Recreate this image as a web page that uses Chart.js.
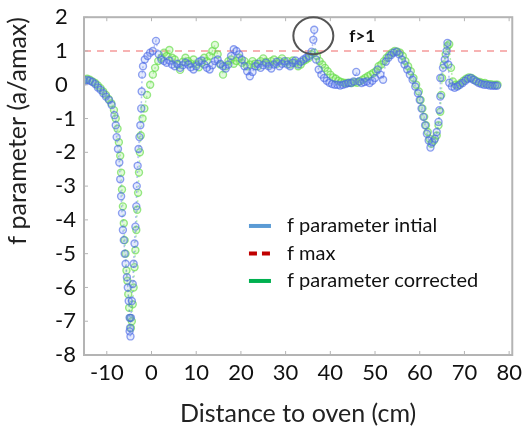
<!DOCTYPE html>
<html>
<head>
<meta charset="utf-8">
<script src="https://cdn.jsdelivr.net/npm/chart.js@4/dist/chart.umd.min.js"></script>
<style>
  html, body { margin: 0; padding: 0; background: #fff; }
  #wrap { width: 527px; height: 429px; }
</style>
</head>
<body>
<div id="wrap"><canvas id="c" width="527" height="429"></canvas></div>
<script>
// axis setup
const xMin = -15.1, xMax = 80.7;
const yMin = -8, yMax = 2;
const xTicks = [-10, 0, 10, 20, 30, 40, 50, 60, 70, 80];
const yTicks = [-8, -7, -6, -5, -4, -3, -2, -1, 0, 1, 2];
const fMax = 1;

// f parameter initial (blue)
const blueX = [-15.0, -14.4, -13.8, -13.2, -12.6, -12.0, -11.4, -10.8, -10.2, -9.5, -8.9, -8.3, -8.0, -7.8, -7.5, -7.2, -7.0, -6.8, -6.6, -6.4, -6.2, -6.0, -5.8, -5.5, -5.3, -5.1, -4.9, -4.8, -4.7,
  -4.9, -4.6, -4.4, -4.2, -4.0, -3.8, -3.6, -3.4, -3.3, -3.1, -2.9, -2.7, -2.5, -2.3, -2.2, -2.1, -1.9, -1.5, -0.9, -0.3, 0.3, 1.0, 1.6, 2.2,
  2.8, 3.4, 4.0, 4.6, 5.2, 5.8, 6.4, 7.0, 7.6, 8.2, 8.8, 9.4, 10.0, 10.6, 11.2, 11.8, 12.4, 13.0, 13.6, 14.2, 14.8, 15.4, 16.0, 16.6, 17.2, 17.8, 18.4, 19.0, 19.6, 20.2, 20.8, 21.4, 22.0, 22.6, 23.2, 23.8, 24.4, 25.0, 25.6, 26.2, 26.8, 27.4, 28.0, 28.6, 29.2, 29.8, 30.4, 31.0, 31.6, 32.2, 32.8, 33.4, 34.0, 34.6, 35.2, 35.8, 36.2, 36.4,
  36.8, 37.4, 38.0, 38.6, 39.2, 39.8, 40.4, 41.0, 41.6, 42.2, 42.8, 43.4, 44.0, 44.6, 45.2, 45.8, 46.4, 47.0, 47.6, 48.2, 48.8, 49.4, 50.0, 50.6, 51.2, 51.8, 52.4, 53.0, 53.6, 54.2, 54.8, 55.4, 56.0, 56.6, 57.2, 57.8, 58.4, 59.0, 59.6, 60.0, 60.4, 60.8, 61.2, 61.6, 62.0, 62.4, 62.8, 63.4, 63.8, 64.2, 64.4, 64.6, 64.6, 65.2, 65.6, 66.0, 66.2, 66.4, 66.6, 67.2, 67.8, 68.4, 69.0, 69.6, 70.2, 70.8, 71.4, 72.0, 72.6, 73.2, 73.8, 74.4, 75.0, 75.6, 76.2, 76.8, 77.3];
const blueY = [0.10, 0.14, 0.12, 0.08, 0.02, -0.08, -0.15, -0.25, -0.35, -0.45, -0.6, -0.9, -1.2, -1.55, -1.9, -2.3, -2.8, -3.3, -3.8, -4.3, -4.6, -5.0, -5.3, -5.7, -6.0, -6.4, -6.9, -7.2, -7.45,
  -7.3, -6.9, -6.4, -5.9, -5.3, -4.7, -4.2, -3.6, -3.0, -2.4, -1.9, -1.55, -1.2, -0.7, -0.2, 0.3, 0.55, 0.75, 0.85, 0.95, 1.0, 1.3, 0.9, 0.75,
  0.7, 0.65, 0.72, 0.6, 0.55, 0.62, 0.5, 0.58, 0.66, 0.6, 0.52, 0.45, 0.55, 0.68, 0.72, 0.6, 0.5, 0.45, 0.58, 0.7, 0.75, 0.62, 0.55, 0.48, 0.6, 0.85, 1.05, 1.0, 0.9, 0.75, 0.55, 0.4, 0.25, 0.38, 0.55, 0.62, 0.5, 0.58, 0.65, 0.55, 0.48, 0.6, 0.68, 0.55, 0.62, 0.7, 0.6, 0.55, 0.65, 0.72, 0.6, 0.68, 0.75, 0.8, 0.85, 0.98, 1.33, 1.63,
  0.75, 0.45, 0.3, 0.2, 0.12, 0.06, 0.02, 0.0, 0.0, -0.02, 0.0, 0.02, 0.05, 0.05, 0.1, 0.38, 0.1, 0.05, 0.08, 0.1, 0.05, 0.12, 0.2, 0.45, 0.3, 0.15, 0.68, 0.8, 0.88, 0.95, 0.98, 0.9, 0.75, 0.6, 0.45, 0.3, 0.15, -0.05, -0.25, -0.45, -0.7, -0.95, -1.2, -1.45, -1.65, -1.86, -1.7, -1.6, -1.4, -1.1, -0.75, -0.35, 0.2, 0.5, 0.75, 1.0, 1.24, 0.6, 0.06, -0.05, -0.09, -0.05, 0.0, 0.05, 0.12, 0.18, 0.2, 0.15, 0.1, 0.05, 0.02, 0.0, 0.0, -0.02, -0.03, -0.03, -0.03];

// f parameter corrected (green)
const greenX = [-15.0, -14.4, -13.8, -13.2, -12.6, -12.0, -11.4, -10.8, -10.2, -9.6, -9.0, -8.4, -8.0, -7.6, -7.3, -7.0, -6.8, -6.6, -6.4, -6.2, -6.0, -5.8, -5.6, -5.4, -5.2, -5.0, -4.8, -4.6,
  -4.4, -4.2, -4.0, -3.8, -3.6, -3.4, -3.2, -3.0, -2.8, -2.6, -2.4, -2.0, -1.6, -1.0, -0.3, 0.3, 0.8, 1.5, 2.2, 2.8, 3.4, 4.0, 4.6,
  5.2, 5.8, 6.4, 7.0, 7.6, 8.2, 8.8, 9.4, 10.0, 10.6, 11.2, 11.8, 12.4, 13.0, 13.6, 14.2, 14.8, 15.4, 16.0, 16.6, 17.2, 17.8, 18.4, 19.0, 19.6, 20.2, 20.8, 21.4, 22.0, 22.6, 23.2, 23.8, 24.4, 25.0, 25.6, 26.2, 26.8, 27.4, 28.0, 28.6, 29.2, 29.8, 30.4, 31.0, 31.6, 32.2, 32.8, 33.4, 34.0, 34.6, 35.2, 35.8,
  36.4, 37.0, 37.6, 38.2, 38.8, 39.4, 40.0, 40.6, 41.2, 41.8, 42.4, 43.0, 43.6, 44.2, 44.8, 45.4, 46.0, 46.6, 47.2, 47.8, 48.4, 49.0, 49.6, 50.2, 50.8, 51.4, 52.0, 52.6, 53.2, 53.8, 54.4, 55.0, 55.6, 56.2, 56.8, 57.4, 58.0, 58.6, 59.2, 59.8, 60.2, 60.6, 61.0, 61.4, 61.8, 62.2, 62.6, 63.2, 63.8, 64.2, 64.6, 64.8, 65.0, 65.4, 65.8, 66.2, 66.6, 67.0, 67.4, 68.0, 68.6, 69.2, 69.8, 70.4, 71.0, 71.6, 72.2, 72.8, 73.4, 74.0, 74.6, 75.2, 75.8, 76.4, 77.0, 77.4];
const greenY = [0.15, 0.18, 0.15, 0.1, 0.05, -0.02, -0.1, -0.2, -0.3, -0.42, -0.55, -0.75, -1.0, -1.3, -1.7, -2.1, -2.6, -3.1, -3.6, -4.1, -4.6, -5.0, -5.5, -5.8, -6.2, -6.6, -6.9, -7.2,
  -7.0, -6.5, -6.0, -5.4, -4.9, -4.3, -3.7, -3.2, -2.6, -2.0, -1.5, -1.0, -0.7, -0.3, 0.0, 0.3, 0.5, 0.7, 0.8, 0.95, 0.85, 1.03, 0.8,
  0.75, 0.6, 0.44, 0.68, 0.8, 0.7, 0.62, 0.75, 0.6, 0.52, 0.65, 0.8, 0.7, 0.85, 1.0, 1.18, 0.9, 0.6, 0.3, 0.55, 0.7, 0.75, 0.62, 0.7, 0.8, 0.65, 0.7, 0.55, 0.6, 0.7, 0.62, 0.55, 0.7, 0.78, 0.68, 0.6, 0.7, 0.75, 0.62, 0.7, 0.78, 0.65, 0.7, 0.6, 0.72, 0.65, 0.55, 0.6, 0.7, 0.75, 0.8, 0.9,
  0.95, 0.85, 0.7, 0.6, 0.5, 0.4, 0.3, 0.22, 0.18, 0.12, 0.08, 0.06, 0.05, 0.06, 0.05, 0.08, 0.06, 0.1, 0.15, 0.2, 0.25, 0.3, 0.35, 0.4, 0.55, 0.6, 0.7, 0.8, 0.88, 0.95, 1.0, 0.98, 0.95, 0.85, 0.7, 0.55, 0.4, 0.2, 0.0, -0.2, -0.45, -0.7, -0.95, -1.2, -1.4, -1.6, -1.75, -1.65, -1.5, -1.2, -0.8, -0.3, 0.2, 0.6, 0.9, 1.15, 1.2, 0.5, 0.1, 0.0, -0.02, 0.05, 0.12, 0.18, 0.22, 0.2, 0.15, 0.1, 0.08, 0.05, 0.05, 0.02, 0.02, 0.0, 0.0, 0.0];

const legendLabels = ['f parameter intial', 'f max', 'f parameter corrected'];
const legendColors = ['#5b9bd5', '#c00000', '#00b050'];

const FONT = 'Lato, "Open Sans", sans-serif';

function toPoints(xs, ys) {
  return xs.map((x, i) => ({ x: x, y: ys[i] }));
}

// frame, small ticks, legend and the f>1 note
const extras = {
  id: 'extras',
  afterDraw(chart) {
    const ctx = chart.ctx;
    const a = chart.chartArea;
    const xs = chart.scales.x, ys = chart.scales.y;
    ctx.save();
    ctx.strokeStyle = '#b4b4b4';
    ctx.lineWidth = 2;
    ctx.strokeRect(a.left, a.top, a.right - a.left, a.bottom - a.top);
    ctx.lineWidth = 1;
    yTicks.forEach(v => {
      const py = ys.getPixelForValue(v);
      ctx.beginPath(); ctx.moveTo(a.left, py); ctx.lineTo(a.left + 4, py); ctx.stroke();
    });
    xTicks.forEach(v => {
      const px = xs.getPixelForValue(v);
      ctx.beginPath(); ctx.moveTo(px, a.bottom); ctx.lineTo(px, a.bottom - 4); ctx.stroke();
      ctx.beginPath(); ctx.moveTo(px, a.top); ctx.lineTo(px, a.top + 4); ctx.stroke();
    });

    // legend
    const lx = xs.getPixelForValue(21.8), ly0 = ys.getPixelForValue(-4.18);
    ctx.font = '20px ' + FONT;
    ctx.textBaseline = 'middle';
    ctx.textAlign = 'left';
    legendLabels.forEach((t, i) => {
      const y = ly0 + i * 27.5;
      ctx.strokeStyle = legendColors[i];
      ctx.lineWidth = 4;
      ctx.setLineDash(i === 1 ? [8, 5] : []);
      ctx.beginPath(); ctx.moveTo(lx, y); ctx.lineTo(lx + 22, y); ctx.stroke();
      ctx.setLineDash([]);
      ctx.fillStyle = '#111';
      ctx.fillText(t, lx + 38, y);
    });

    // circle around the f>1 point
    const cx = xs.getPixelForValue(36.2), cy = ys.getPixelForValue(1.45);
    ctx.strokeStyle = '#555';
    ctx.lineWidth = 2;
    ctx.beginPath();
    ctx.ellipse(cx, cy, 20, 18.5, 0, 0, Math.PI * 2);
    ctx.stroke();
    ctx.fillStyle = '#111';
    ctx.font = 'bold 17px ' + FONT;
    ctx.fillText('f>1', cx + 36, cy + 1);
    ctx.restore();
  }
};

new Chart(document.getElementById('c'), {
  type: 'line',
  data: {
    datasets: [
      {
        label: 'f parameter intial',
        data: toPoints(blueX, blueY),
        borderColor: 'rgba(80,110,235,0.45)',
        borderWidth: 1.5,
        borderDash: [2, 3],
        pointRadius: 3.5,
        pointBorderWidth: 1.4,
        pointBorderColor: 'rgba(70,100,230,0.6)',
        pointBackgroundColor: 'rgba(120,150,240,0.2)',
        tension: 0,
        fill: false
      },
      {
        label: 'f parameter corrected',
        data: toPoints(greenX, greenY),
        borderColor: 'rgba(100,220,80,0.45)',
        borderWidth: 1.5,
        borderDash: [2, 3],
        pointRadius: 3.5,
        pointBorderWidth: 1.4,
        pointBorderColor: 'rgba(100,220,70,0.65)',
        pointBackgroundColor: 'rgba(140,235,110,0.25)',
        tension: 0,
        fill: false
      },
      {
        label: 'f max',
        data: [{ x: xMin, y: fMax }, { x: xMax, y: fMax }],
        borderColor: 'rgba(240,120,120,0.75)',
        borderWidth: 1.5,
        borderDash: [7, 6],
        pointRadius: 0,
        fill: false
      }
    ]
  },
  options: {
    responsive: false,
    animation: false,
    layout: { padding: { left: 0, right: 14, top: 17, bottom: 0 } },
    plugins: {
      legend: { display: false },
      tooltip: { enabled: false },
      title: {
        display: true,
        text: 'f parameter (a/amax)',
        position: 'left',
        align: 'end',
        color: '#222',
        font: { family: FONT, size: 25, weight: 'normal' },
        padding: { top: 3, bottom: 22 }
      }
    },
    scales: {
      x: {
        type: 'linear',
        min: xMin,
        max: xMax,
        afterBuildTicks: s => { s.ticks = xTicks.map(v => ({ value: v })); },
        afterFit: s => { s.height = 74; },
        grid: { display: false, drawTicks: false },
        border: { display: false },
        ticks: { color: '#111', padding: 5, maxRotation: 0, font: { family: FONT, size: 22 } },
        title: {
          display: true,
          text: 'Distance to oven (cm)',
          color: '#222',
          font: { family: FONT, size: 25 },
          padding: { top: 0, bottom: 0 }
        }
      },
      y: {
        min: yMin,
        max: yMax,
        afterBuildTicks: s => { s.ticks = yTicks.map(v => ({ value: v })); },
        afterFit: s => { s.width = 29; },
        grid: { display: false, drawTicks: false },
        border: { display: false },
        ticks: { color: '#111', crossAlign: 'far', padding: 4, font: { family: FONT, size: 22 } }
      }
    }
  },
  plugins: [extras]
});
</script>
</body>
</html>
